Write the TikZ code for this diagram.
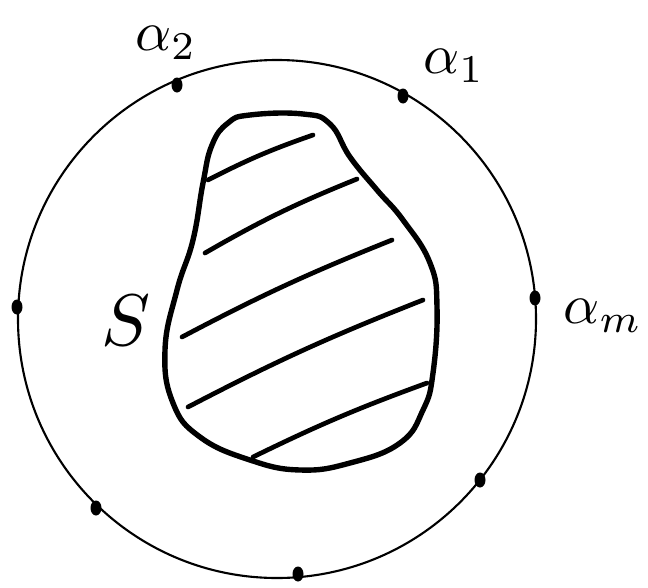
\documentclass[tikz,border=0pt]{standalone}
\begin{document}
\begin{tikzpicture}[x=0.03cm, y=-0.03cm, line cap=round, line join=round,
  every node/.style={scale=4.8}]
  \useasboundingbox (0,0) rectangle (648,587);
  % outer circle with marked points
  \draw[line width=1.8pt] (277,319) circle[radius=259];
  \foreach \px/\py in {177/85, 403/96, 535/298, 17/307, 96/508, 298/574, 480/480}
    \fill (\px,\py) ellipse[x radius=5.5, y radius=7.5];
  \node (a2) at (166,43) {$\alpha_2$};
  \node (a1) at (454,66) {$\alpha_1$};
  \node (am) at (603,316) {$\alpha_m$};
  \node[scale=1.3] (s) at (126,321) {$S$};
  % the set S
  \draw[line width=4.6pt] plot[smooth cycle, tension=0.75] coordinates {
    (250,115) (303,114) (330,124) (350,157) (377,190) (403,220) (430,263)
    (437,307) (433,373) (423,410) (400,443) (350,463) (300,470) (250,460)
    (200,437) (173,403) (165,350) (177,290) (193,240) (203,183) (212,145)
    (228,123)};
  % hatching
  \draw[line width=4pt] (208,180) to[bend left=4] (313,135);
  \draw[line width=4pt] (205,253) to[bend left=4] (357,179);
  \draw[line width=4pt] (182,337) to[bend left=3] (392,240);
  \draw[line width=4pt] (188,407) to[bend left=3] (423,300);
  \draw[line width=4pt] (253,457) to[bend left=3] (427,383);
\end{tikzpicture}
\end{document}
